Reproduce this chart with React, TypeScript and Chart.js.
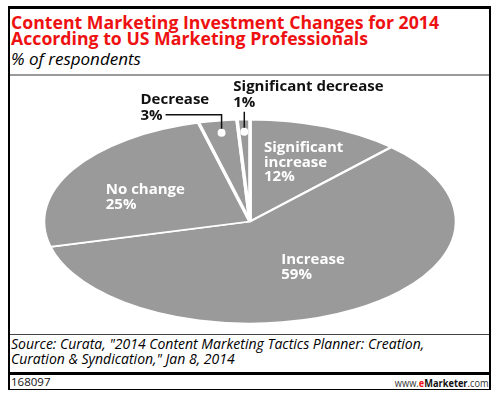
import React, { useEffect, useRef } from 'react';
import { Chart, registerables } from 'chart.js';

Chart.register(...registerables);

// ---------- data ----------
const TITLE_LINES = [
  'Content Marketing Investment Changes for 2014',
  'According to US Marketing Professionals',
];
const SUBTITLE = '% of respondents';
const CATEGORIES = ['Significant increase', 'Increase', 'No change', 'Decrease', 'Significant decrease'];
const VALUES = [12, 59, 25, 3, 1];
const SOURCE_LINES = [
  'Source: Curata, "2014 Content Marketing Tactics Planner: Creation,',
  'Curation & Syndication," Jan 8, 2014',
];
const CHART_ID = '168097';

// ---------- layout / style ----------
const FONT = '"Open Sans", "DejaVu Sans", sans-serif';
const CANVAS_LEFT = 10;
const CANVAS_TOP = 76;
const CANVAS_W = 479;
const CANVAS_H = 257;
const ELL = { cx: 240, cy: 145.5, rx: 206.5, ry: 102 };
const PIE_COLOR = '#9a9a9a';
const INSIDE_FRACTION = 0.6;
const INSIDE_NUDGE: Record<string, [number, number]> = {
  'Significant increase': [8, -3],
  Increase: [0, -8],
  'No change': [2, 6],
};
const DOT_FRACTION = 0.88;
const OUTSIDE_STYLE: Record<string, 'elbow' | 'up'> = {
  Decrease: 'elbow',
  'Significant decrease': 'up',
};
const LABEL_FONT = `bold 15px ${FONT}`;
const CAP = 10.7;
const LH = 14.5;

function wrapLines(ctx: CanvasRenderingContext2D, text: string, maxW: number): string[] {
  const words = text.split(' ');
  const out: string[] = [];
  let cur = '';
  for (const w of words) {
    const t = cur ? cur + ' ' + w : w;
    if (cur && ctx.measureText(t).width > maxW) {
      out.push(cur);
      cur = w;
    } else cur = t;
  }
  if (cur) out.push(cur);
  return out;
}

const ellipsePlugin = {
  id: 'ellipseTransform',
  beforeDatasetsDraw(chart: any) {
    const arc = chart.getDatasetMeta(0).data[0];
    if (!arc) return;
    const ctx = chart.ctx as CanvasRenderingContext2D;
    ctx.save();
    ctx.translate(ELL.cx, ELL.cy);
    ctx.scale(ELL.rx / arc.outerRadius, ELL.ry / arc.outerRadius);
    ctx.translate(-arc.x, -arc.y);
  },
  afterDatasetsDraw(chart: any) {
    (chart.ctx as CanvasRenderingContext2D).restore();
  },
};

const labelPlugin = {
  id: 'pieLabels',
  afterDraw(chart: any) {
    const ctx = chart.ctx as CanvasRenderingContext2D;
    const meta = chart.getDatasetMeta(0);
    ctx.save();
    ctx.font = LABEL_FONT;
    ctx.textAlign = 'left';
    ctx.textBaseline = 'alphabetic';
    meta.data.forEach((arc: any, i: number) => {
      const name = CATEGORIES[i];
      const pct = VALUES[i] + '%';
      const mid = (arc.startAngle + arc.endAngle) / 2;
      const style = OUTSIDE_STYLE[name];
      if (!style) {
        const nudge = INSIDE_NUDGE[name] || [0, 0];
        const ax = ELL.cx + Math.cos(mid) * ELL.rx * INSIDE_FRACTION + nudge[0];
        const ay = ELL.cy + Math.sin(mid) * ELL.ry * INSIDE_FRACTION + nudge[1];
        const lines = wrapLines(ctx, name, 100).concat([pct]);
        const w = Math.max(...lines.map((l) => ctx.measureText(l).width));
        const visH = CAP + (lines.length - 1) * LH;
        const left = ax - w / 2;
        const base = ay - visH / 2 + CAP;
        ctx.fillStyle = '#ffffff';
        lines.forEach((l, j) => ctx.fillText(l, left, base + j * LH));
      } else {
        const dx = ELL.cx + Math.cos(mid) * ELL.rx * DOT_FRACTION;
        const dy = ELL.cy + Math.sin(mid) * ELL.ry * DOT_FRACTION;
        ctx.strokeStyle = '#111';
        ctx.lineWidth = 1.5;
        ctx.fillStyle = '#111';
        if (style === 'elbow') {
          const elbowY = dy - 18;
          const endX = dx - 56;
          ctx.beginPath();
          ctx.moveTo(dx, dy);
          ctx.lineTo(dx, elbowY);
          ctx.lineTo(endX, elbowY);
          ctx.stroke();
          const pw = ctx.measureText(pct).width;
          const left = endX - 3 - pw;
          const pBase = elbowY + 5.5;
          ctx.fillText(name, left, pBase - 16);
          ctx.fillText(pct, left, pBase);
        } else {
          const topY = dy - 20;
          ctx.beginPath();
          ctx.moveTo(dx, dy);
          ctx.lineTo(dx, topY);
          ctx.stroke();
          const left = dx - 11;
          const pBase = topY - 4.5;
          ctx.fillText(name, left, pBase - 16);
          ctx.fillText(pct, left, pBase);
        }
        ctx.beginPath();
        ctx.arc(dx, dy, 4, 0, Math.PI * 2);
        ctx.fillStyle = '#ffffff';
        ctx.fill();
      }
    });
    ctx.restore();
  },
};

type LineProps = {
  text: React.ReactNode;
  x?: number;
  right?: number;
  baseline: number;
  size: number;
  weight?: number | string;
  italic?: boolean;
  color?: string;
  scaleX?: number;
};

function TextLine({ text, x, right, baseline, size, weight = 400, italic, color = '#000', scaleX }: LineProps) {
  const style: React.CSSProperties = {
    position: 'absolute',
    top: baseline - 0.888 * size,
    fontSize: size,
    lineHeight: `${size}px`,
    fontWeight: weight as any,
    fontStyle: italic ? 'italic' : 'normal',
    color,
    whiteSpace: 'nowrap',
    fontFamily: FONT,
  };
  if (x !== undefined) style.left = x;
  if (right !== undefined) style.right = right;
  if (scaleX !== undefined) {
    style.transform = `scaleX(${scaleX})`;
    style.transformOrigin = right !== undefined ? 'right center' : 'left center';
  }
  return <div style={style}>{text}</div>;
}

function Rule({ left, top, width, height, color = '#000' }: { left: number; top: number; width: number; height: number; color?: string }) {
  return <div style={{ position: 'absolute', left, top, width, height, background: color }} />;
}

export default function App() {
  const ref = useRef<HTMLCanvasElement | null>(null);

  useEffect(() => {
    if (!ref.current) return;
    const chart = new Chart(ref.current, {
      type: 'pie',
      data: {
        labels: CATEGORIES,
        datasets: [
          {
            data: VALUES,
            backgroundColor: PIE_COLOR,
            borderColor: '#ffffff',
            borderWidth: 2.2,
          },
        ],
      },
      options: {
        animation: false,
        responsive: false,
        devicePixelRatio: 1,
        layout: { padding: 0 },
        events: [],
        plugins: {
          legend: { display: false },
          tooltip: { enabled: false },
        },
      },
      plugins: [ellipsePlugin, labelPlugin],
    });
    return () => chart.destroy();
  }, []);

  return (
    <div
      style={{
        position: 'absolute',
        left: 0,
        top: 0,
        width: 501,
        height: 396,
        background: '#fff',
        overflow: 'hidden',
        fontFamily: FONT,
      }}
    >
      {/* frame */}
      <Rule left={8} top={6} width={483} height={3} />
      <Rule left={8} top={6} width={2} height={384} />
      <Rule left={489} top={6} width={2} height={384} />
      <Rule left={8} top={389} width={483} height={1} />
      <Rule left={10} top={74} width={479} height={2} color="#9a9a9a" />
      <Rule left={10} top={334} width={479} height={1} color="#444" />
      <Rule left={10} top={372} width={479} height={3} />

      <TextLine text={TITLE_LINES[0]} x={11} baseline={30} size={17.7} weight={700} color="#ee1111" />
      <TextLine text={TITLE_LINES[1]} x={11} baseline={45.5} size={17.7} weight={700} color="#ee1111" />
      <TextLine text={SUBTITLE} x={11} baseline={65.5} size={17} italic />

      <div style={{ position: 'absolute', left: CANVAS_LEFT, top: CANVAS_TOP, width: CANVAS_W, height: CANVAS_H }}>
        <canvas ref={ref} width={CANVAS_W} height={CANVAS_H} style={{ display: 'block', width: CANVAS_W, height: CANVAS_H }} />
      </div>

      <TextLine text={SOURCE_LINES[0]} x={11} baseline={349} size={14} italic />
      <TextLine text={SOURCE_LINES[1]} x={11} baseline={364} size={14} italic />

      <TextLine text={CHART_ID} x={11} baseline={386.5} size={11.5} color="#111" />
      <TextLine
        text={
          <span>
            <span style={{ color: '#333' }}>www.</span>
            <span style={{ color: '#ee1111', fontWeight: 700 }}>e</span>
            <span style={{ color: '#111', fontWeight: 700 }}>Marketer</span>
            <span style={{ color: '#333' }}>.com</span>
          </span>
        }
        right={12}
        baseline={386.5}
        size={11}
        scaleX={0.84}
      />
    </div>
  );
}
